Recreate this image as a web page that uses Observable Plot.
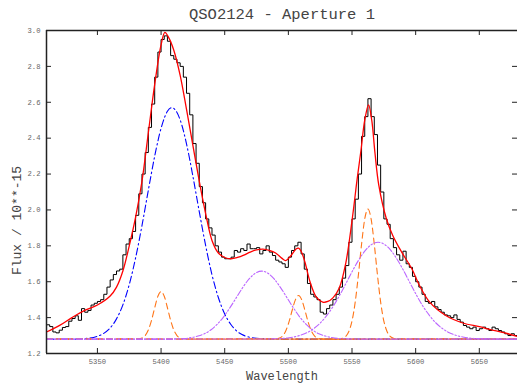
<!DOCTYPE html>
<html><head><meta charset="utf-8">
<script src="https://cdn.jsdelivr.net/npm/d3@7"></script>
<script src="https://cdn.jsdelivr.net/npm/@observablehq/plot@0.6"></script>
<style>body{margin:0;background:#fff}</style>
</head><body><div id="chart"></div>
<script>
const title = "QSO2124 - Aperture 1";
const xLabel = "Wavelength";
const yLabel = "Flux / 10**-15";
const xTicks = [5350, 5400, 5450, 5500, 5550, 5600, 5650];
const yTicks = [1.2, 1.4, 1.6, 1.8, 2.0, 2.2, 2.4, 2.6, 2.8, 3.0];
const xDomain = [5310, 5680];
const yDomain = [1.2, 3.0];

// observed spectrum, 2.5 A bins starting at 5310
const binStart = 5310, binWidth = 2.5;
const observedFlux = [
 1.36,1.35,1.32,1.315,1.33,1.345,1.35,1.38,1.395,1.41,
 1.385,1.45,1.43,1.44,1.47,1.48,1.49,1.50,1.53,1.57,
 1.61,1.64,1.66,1.67,1.75,1.81,1.84,1.88,1.97,2.09,
 2.20,2.32,2.46,2.59,2.74,2.88,2.95,2.97,2.94,2.86,
 2.84,2.82,2.80,2.74,2.65,2.53,2.37,2.26,2.13,2.04,
 1.95,1.90,1.86,1.80,1.765,1.737,1.728,1.728,1.737,1.774,
 1.765,1.784,1.774,1.81,1.784,1.784,1.79,1.755,1.774,1.80,
 1.765,1.746,1.72,1.71,1.70,1.68,1.737,1.774,1.80,1.82,
 1.755,1.67,1.59,1.53,1.515,1.50,1.43,1.42,1.45,1.47,
 1.50,1.53,1.57,1.62,1.69,1.82,1.95,2.06,2.20,2.41,
 2.52,2.62,2.52,2.42,2.25,2.10,1.95,1.92,1.84,1.79,
 1.75,1.72,1.77,1.70,1.68,1.63,1.60,1.57,1.53,1.49,
 1.48,1.49,1.46,1.445,1.43,1.415,1.41,1.40,1.415,1.39,
 1.375,1.356,1.347,1.338,1.347,1.328,1.338,1.347,1.338,1.328,
 1.347,1.338,1.328,1.32,1.31,1.30,1.31,1.30
];

// total fit (red)
const fitCurve = [
 [5310,1.32],[5320,1.355],[5330,1.40],[5340,1.44],[5350,1.47],[5360,1.52],[5365,1.57],
 [5370,1.66],[5375,1.80],[5380,1.96],[5385,2.16],[5390,2.43],[5395,2.70],[5400,2.92],
 [5403,2.99],[5406,2.96],[5410,2.89],[5415,2.75],[5420,2.56],[5425,2.36],[5430,2.16],
 [5435,1.98],[5440,1.83],[5445,1.76],[5450,1.735],[5455,1.728],[5460,1.735],[5465,1.748],
 [5470,1.765],[5475,1.778],[5480,1.782],[5485,1.775],[5490,1.76],[5495,1.73],[5498,1.718],
 [5502,1.745],[5506,1.782],[5508,1.787],[5510,1.77],[5513,1.71],[5517,1.60],[5522,1.514],
 [5527,1.486],[5531,1.49],[5535,1.51],[5540,1.565],[5545,1.70],[5550,1.94],[5554,2.17],
 [5557,2.33],[5560,2.50],[5563,2.586],[5565.5,2.50],[5568,2.32],[5571,2.14],[5577,1.951],
 [5582,1.858],[5589,1.765],[5597,1.672],[5603,1.579],[5611,1.486],[5624,1.41],[5637,1.37],
 [5650,1.35],[5658,1.335],[5670,1.315],[5680,1.295]
];

// broad component (blue)
const broadComp = [
 [5310,1.28],[5330,1.28],[5340,1.283],[5350,1.296],[5355,1.312],[5360,1.342],[5365,1.393],
 [5370,1.471],[5375,1.584],[5380,1.733],[5385,1.913],[5390,2.110],[5395,2.300],[5400,2.455],
 [5405,2.550],[5408.5,2.570],[5410,2.566],[5415,2.502],[5420,2.368],[5425,2.188],[5430,1.991],
 [5435,1.802],[5440,1.639],[5445,1.512],[5450,1.420],[5455,1.360],[5460,1.322],[5465,1.301],
 [5470,1.290],[5480,1.282],[5490,1.280],[5680,1.280]
];

// narrow components (orange)
const narrowComp1 = [
 [5310,1.28],[5382.5,1.282],[5385,1.286],[5387.5,1.300],[5390,1.331],[5392.5,1.385],[5395,1.455],
 [5397.5,1.519],[5400,1.545],[5402.5,1.519],[5405,1.455],[5407.5,1.385],[5410,1.331],[5412.5,1.300],
 [5415,1.286],[5417.5,1.282],[5420,1.28],[5680,1.28]
];
const narrowComp2 = [
 [5310,1.28],[5490.5,1.282],[5493,1.286],[5495.5,1.298],[5498,1.327],[5500.5,1.376],[5503,1.441],
 [5505.5,1.499],[5508,1.523],[5510.5,1.499],[5513,1.441],[5515.5,1.376],[5518,1.327],[5520.5,1.298],
 [5523,1.286],[5525.5,1.282],[5528,1.28],[5680,1.28]
];
const narrowComp3 = [
 [5310,1.28],[5540,1.281],[5542.5,1.285],[5545,1.295],[5547.5,1.323],[5550,1.381],[5552.5,1.486],
 [5555,1.637],[5557.5,1.809],[5560,1.950],[5562.5,2.005],[5565,1.950],[5567.5,1.809],[5570,1.637],
 [5572.5,1.486],[5575,1.381],[5577.5,1.323],[5580,1.295],[5582.5,1.285],[5585,1.281],[5680,1.28]
];

// intermediate components (violet)
const midComp1 = [
 [5310,1.28],[5399,1.28],[5409,1.281],[5419,1.284],[5424,1.289],[5429,1.297],[5434,1.310],
 [5439,1.331],[5444,1.362],[5449,1.403],[5454,1.454],[5459,1.510],[5464,1.566],[5469,1.614],
 [5474,1.647],[5479,1.659],[5484,1.647],[5489,1.614],[5494,1.566],[5499,1.510],[5504,1.454],
 [5509,1.403],[5514,1.362],[5519,1.331],[5524,1.310],[5529,1.297],[5534,1.289],[5539,1.284],
 [5549,1.281],[5559,1.28],[5680,1.28]
];
const midComp2 = [
 [5310,1.28],[5480.5,1.281],[5490.5,1.282],[5495.5,1.284],[5500.5,1.288],[5505.5,1.294],
 [5510.5,1.304],[5515.5,1.319],[5520.5,1.342],[5525.5,1.373],[5530.5,1.415],[5535.5,1.466],
 [5540.5,1.527],[5545.5,1.594],[5550.5,1.662],[5555.5,1.724],[5560.5,1.775],[5565.5,1.808],
 [5570.5,1.82],[5575.5,1.808],[5580.5,1.775],[5585.5,1.724],[5590.5,1.662],[5595.5,1.594],
 [5600.5,1.527],[5605.5,1.466],[5610.5,1.415],[5615.5,1.373],[5620.5,1.342],[5625.5,1.319],
 [5630.5,1.304],[5635.5,1.294],[5640.5,1.288],[5645.5,1.284],[5650.5,1.282],[5660.5,1.281],
 [5680,1.28]
];

const W = 517, H = 385, mL = 46, mR = 0, mT = 30, mB = 32;
const innerW = W - mL - mR, innerH = H - mT - mB;
const mono = "'Liberation Mono', 'DejaVu Sans Mono', monospace";
const axisColor = "#222";

const hist = observedFlux.map((v, i) => ({x: binStart + i * binWidth, y: v}));
hist.push({x: binStart + observedFlux.length * binWidth, y: observedFlux[observedFlux.length - 1]});
const pts = arr => arr.map(([x, y]) => ({x, y}));
const comp = (arr, stroke, dash) => Plot.line(pts(arr), {
  x: "x", y: "y", stroke, strokeWidth: 1.1, strokeDasharray: dash, curve: "monotone-x", clip: true
});

const chart = Plot.plot({
  width: W, height: H,
  marginLeft: mL, marginRight: mR, marginTop: mT, marginBottom: mB,
  x: {domain: xDomain},
  y: {domain: yDomain},
  style: {background: "#fff"},
  marks: [
    Plot.line(hist, {x: "x", y: "y", curve: "step-after", stroke: "#000", strokeWidth: 1, clip: true}),
    comp(broadComp, "#0000ff", "7,3,1.5,3"),
    comp(narrowComp1, "#ff7518", "6,4"),
    comp(narrowComp2, "#ff7518", "6,4"),
    comp(narrowComp3, "#ff7518", "6,4"),
    comp(midComp1, "#bb66ff", "6,2,1.5,2,1.5,2"),
    comp(midComp2, "#bb66ff", "6,2,1.5,2,1.5,2"),
    Plot.line(pts(fitCurve), {x: "x", y: "y", stroke: "#ff0000", strokeWidth: 1.3, curve: "catmull-rom", clip: true}),
    // frame
    Plot.ruleX([xDomain[0]], {stroke: axisColor, strokeWidth: 1.5}),
    Plot.ruleY(yDomain, {stroke: axisColor, strokeWidth: 1.5}),
    // inward ticks
    Plot.tickX(xTicks, {x: d => d, insetTop: innerH - 5, stroke: axisColor}),
    Plot.tickX(xTicks, {x: d => d, insetBottom: innerH - 5, stroke: axisColor}),
    Plot.tickY(yTicks, {y: d => d, insetRight: innerW - 5, stroke: axisColor}),
    Plot.tickY(yTicks, {y: d => d, insetLeft: innerW - 5, stroke: axisColor}),
    Plot.axisX(xTicks, {anchor: "bottom", tickSize: 0, tickPadding: 5, fontSize: 7.2, fontFamily: mono, fill: "#666", label: null, tickFormat: d => String(d)}),
    Plot.axisY(yTicks, {anchor: "left", tickSize: 0, tickPadding: 6, fontSize: 7.2, fontFamily: mono, fill: "#666", label: null, tickFormat: d => d.toFixed(1)}),
    Plot.text([title], {text: d => d, frameAnchor: "top", lineAnchor: "middle", textAnchor: "middle", dy: -16.5, fontFamily: mono, fontSize: 15.5, fill: "#444"}),
    Plot.text([xLabel], {text: d => d, frameAnchor: "bottom", lineAnchor: "middle", textAnchor: "middle", dy: 23, fontFamily: mono, fontSize: 12, fill: "#444"}),
    Plot.text([yLabel], {text: d => d, frameAnchor: "left", lineAnchor: "middle", textAnchor: "middle", rotate: -90, dx: -30, dy: 28.5, fontFamily: mono, fontSize: 13, fill: "#444"})
  ]
});
document.getElementById("chart").append(chart);
</script>
</body></html>
